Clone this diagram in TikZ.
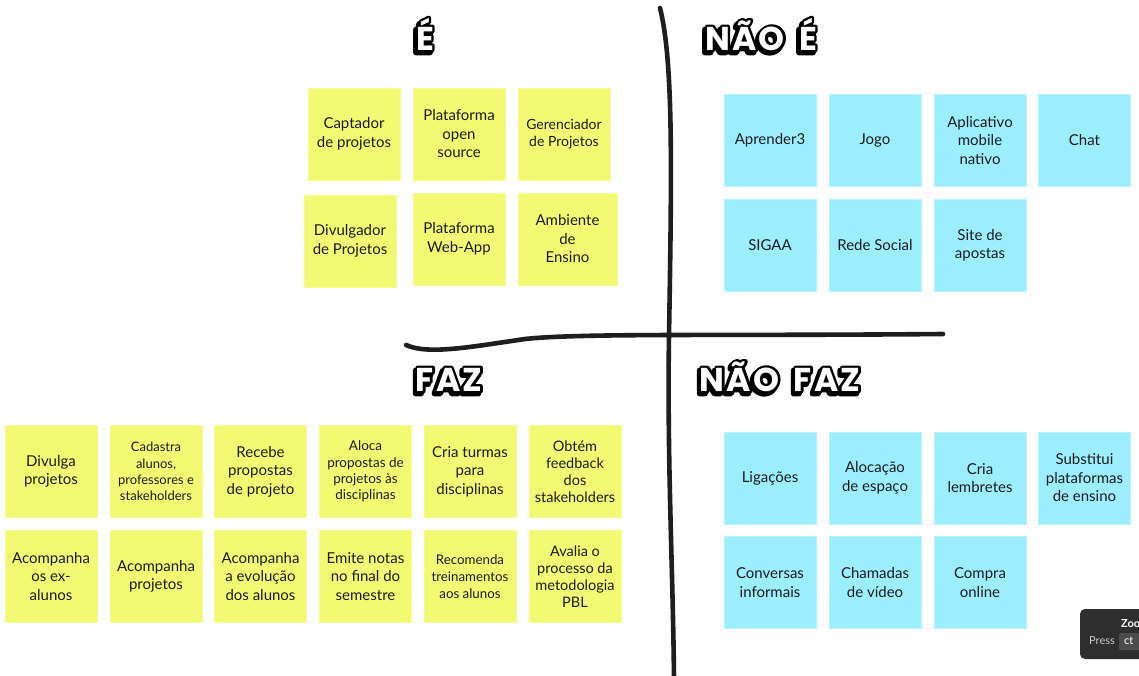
\documentclass[tikz,border=0pt]{standalone}
\usepackage{fontspec}
\setmainfont{Lato}
\newfontfamily\headfont{Poppins}[LetterSpace=7]
\definecolor{stickyY}{HTML}{F2FA74}
\definecolor{stickyB}{HTML}{9CEDFE}
\definecolor{ink}{HTML}{1C1C1C}
\definecolor{pen}{HTML}{1E1E1E}
\definecolor{tipbg}{HTML}{2E2E2E}
\definecolor{tipkey}{HTML}{4C4C4C}
% glyphs filled and stroked with a round-joined black outline
\newcommand\strokeon[1]{\special{pdf:literal direct #1 w 1 j 0 0 0 RG 2 Tr}}
\newcommand\strokeoff{\special{pdf:literal direct 0 Tr}}
\tikzset{
  note/.style={minimum width=92pt, minimum height=92pt, inner sep=0pt, align=center,
    text=ink, font=\fontsize{15}{18.5}\selectfont},
  yel/.style={note, fill=stickyY, draw=stickyY!80!white, line width=0.6pt},
  blu/.style={note, fill=stickyB, draw=stickyB!70!white, line width=0.6pt},
  fs/.style={font=\fontsize{#1}{17}\selectfont},
  marker/.style={draw=pen, line width=4.6pt, line cap=round},
  head/.style={inner sep=0pt, anchor=base, font=\headfont\bfseries\fontsize{33}{33}\selectfont},
}
% bubble lettering: black extrusion, black outline, white letters
\newcommand\bubbletitle[3]{%
  \node[head, text=black, xshift=-2.2pt, yshift=-2.6pt] at (#2) {\strokeon{5.5}#3\strokeoff};
  \node[head, text=black] at (#2) {\strokeon{4.5}#3\strokeoff};
  \node[head, text=white] (#1) at (#2) {#3};
}
\begin{document}
\begin{tikzpicture}[x=1pt, y=-1pt]
\useasboundingbox (0,0) rectangle (1139,675);
\fill[white] (0,0) rectangle (1139,675);

% quadrant axes
\draw[marker] (660,8) .. controls (673,60) and (672,160) .. (669,335)
  .. controls (667,460) and (673,570) .. (674,680);
\draw[marker] (406,345) .. controls (428,355) and (470,347) .. (525,339)
  .. controls (580,333) and (720,336) .. (943,334);

% É
\node[yel] (e1) at (354,134) {Captador\\de projetos};
\node[yel] (e2) at (459,134) {Plataforma\\open\\source};
\node[yel, fs=14] (e3) at (564,134) {Gerenciador\\de Projetos};
\node[yel] (e4) at (350,241) {Divulgador\\de Projetos};
\node[yel] (e5) at (459,239) {Plataforma\\Web-App};
\node[yel, minimum width=99pt] (e6) at (567.5,239) {Ambiente\\de\\Ensino};

% NÃO É
\node[blu] (n1) at (770,140.5) {Aprender3};
\node[blu] (n2) at (875,140.5) {Jogo};
\node[blu] (n3) at (980,140.5) {Aplicativo\\mobile\\nativo};
\node[blu] (n4) at (1084.5,140.5) {Chat};
\node[blu] (n5) at (770,245.5) {SIGAA};
\node[blu] (n6) at (875,245.5) {Rede Social};
\node[blu] (n7) at (980,245.5) {Site de\\apostas};

% FAZ
\node[yel] (f1) at (51,471.5) {Divulga\\projetos};
\node[yel, font=\fontsize{13}{16.4}\selectfont] (f2) at (156,471.5) {Cadastra\\alunos,\\professores e\\stakeholders};
\node[yel] (f3) at (260.5,471.5) {Recebe\\propostas\\de projeto};
\node[yel, font=\fontsize{13.5}{16.4}\selectfont] (f4) at (365.5,471.5) {Aloca\\propostas de\\projetos às\\disciplinas};
\node[yel] (f5) at (470,471.5) {Cria turmas\\para\\disciplinas};
\node[yel, fs=14.5] (f6) at (575,471.5) {Obtém\\feedback\\dos\\stakeholders};
\node[yel] (f7) at (51,576.5) {Acompanha\\os ex-\\alunos};
\node[yel] (f8) at (156,576.5) {Acompanha\\projetos};
\node[yel] (f9) at (260.5,576.5) {Acompanha\\a evolução\\dos alunos};
\node[yel] (f10) at (365.5,576.5) {Emite notas\\no final do\\semestre};
\node[yel, fs=13.3] (f11) at (470,576.5) {Recomenda\\treinamentos\\aos alunos};
\node[yel, fs=14.5] (f12) at (575,576.5) {Avalia o\\processo da\\metodologia\\PBL};

% NÃO FAZ
\node[blu] (g1) at (770,478) {Ligações};
\node[blu] (g2) at (875,478) {Alocação\\de espaço};
\node[blu] (g3) at (980,478) {Cria\\lembretes};
\node[blu] (g4) at (1084.5,478) {Substitui\\plataformas\\de ensino};
\node[blu] (g5) at (770,582.5) {Conversas\\informais};
\node[blu] (g6) at (875,582.5) {Chamadas\\de vídeo};
\node[blu] (g7) at (980,582.5) {Compra\\online};

% shortcut hint in the corner
\begin{scope}
\clip (0,0) rectangle (1139,675);
\fill[tipbg, rounded corners=5pt] (1080,609) rectangle (1170,659);
\fill[tipkey, rounded corners=2pt] (1119,633) rectangle (1160,650);
\node[anchor=west, inner sep=0pt, text=white, font=\bfseries\fontsize{11}{11}\selectfont] (tz) at (1121,624) {Zoo};
\node[anchor=west, inner sep=0pt, text=white!80!black, font=\fontsize{11}{11}\selectfont] (tp) at (1089,641) {Press};
\node[anchor=west, inner sep=0pt, text=white, font=\fontsize{11}{11}\selectfont] (tk) at (1124,641) {ct};
\end{scope}

% quadrant titles
\bubbletitle{tE}{425,50}{É}
\bubbletitle{tNE}{761,50}{NÃO\hspace{5pt} É}
\bubbletitle{tF}{449,391}{FAZ}
\bubbletitle{tNF}{780,391}{NÃO\hspace{5pt} FAZ}
\end{tikzpicture}
\end{document}
